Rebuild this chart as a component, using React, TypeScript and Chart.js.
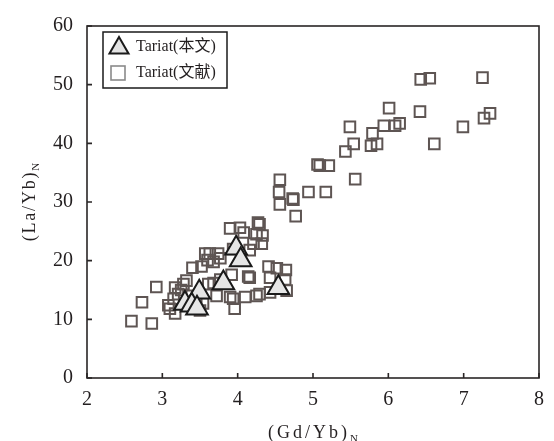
import { useEffect, useRef } from "react";
import { Chart, registerables } from "chart.js";

Chart.register(...registerables);

// X / Y tick values
const xTickValues = [2, 3, 4, 5, 6, 7, 8];
const yTickValues = [0, 10, 20, 30, 40, 50, 60];

// Tariat (this study) — (Gd/Yb)N, (La/Yb)N
const studyGdYb = [3.98, 4.04, 3.81, 4.54, 3.49, 3.3, 3.39, 3.46];
const studyLaYb = [22.1, 20.1, 16.2, 15.4, 14.6, 12.7, 12.4, 11.9];

// Tariat (literature)
const litGdYb = [
  6.43, 6.55, 7.25, 6.42, 6.01, 7.35, 7.27, 6.99, 6.61, 6.15, 6.09, 5.94, 5.49, 5.79, 5.85,
  5.77, 5.54, 5.43, 5.06, 5.09, 5.21, 5.56, 4.94, 5.17, 4.73, 4.74, 4.77, 4.56, 4.55, 4.56,
  3.9, 4.03, 4.08, 4.27, 4.29, 4.25, 4.33, 4.32, 4.21, 4.16, 3.94, 3.57, 3.63, 3.74, 3.77,
  3.6, 3.68, 3.4, 3.52, 3.92, 3.77, 4.16, 4.14, 4.41, 4.52, 4.43, 4.63, 4.64, 2.92, 3.17,
  3.32, 3.28, 3.21, 3.15, 3.08, 3.1, 3.17, 3.61, 3.68, 3.72, 3.9, 3.96, 3.94, 4.1, 4.25,
  4.29, 4.43, 4.65, 3.54, 2.86, 2.73, 2.59, 3.25, 3.35, 3.45, 3.5, 3.42,
];
const litLaYb = [
  50.9, 51.1, 51.2, 45.4, 46.0, 45.1, 44.3, 42.8, 39.9, 43.4, 43.0, 43.0, 42.8, 41.7, 39.9,
  39.6, 39.9, 38.6, 36.4, 36.2, 36.2, 33.9, 31.7, 31.7, 30.6, 30.4, 27.6, 33.8, 31.7, 29.6,
  25.5, 25.6, 24.8, 26.5, 26.2, 24.5, 24.3, 22.9, 22.9, 21.8, 22.0, 21.2, 21.2, 21.2, 20.4,
  20.1, 19.8, 18.8, 19.0, 17.6, 16.8, 17.1, 17.3, 19.0, 18.7, 17.1, 16.8, 18.4, 15.5, 15.4,
  16.6, 16.0, 14.3, 13.5, 12.4, 11.8, 11.0, 16.0, 16.2, 14.0, 13.8, 11.8, 13.5, 13.8, 14.0,
  14.3, 14.6, 14.9, 12.7, 9.3, 12.9, 9.7, 15.0, 14.0, 13.0, 11.5, 12.0,
];

const legendLabels = ["Tariat(本文)", "Tariat(文献)"];
const xTitle = "(Gd/Yb)";
const yTitle = "(La/Yb)";
const subscript = "N";

const SERIF = '"Liberation Serif", "Times New Roman", serif';
const LEGEND_FONT = '"Liberation Serif", "Noto Sans CJK SC", serif';
const AXIS_COLOR = "#2a2626";
const SQUARE_COLOR = "#5e5553";

function drawTitle(ctx: CanvasRenderingContext2D, main: string, sub: string, spacing: string) {
  ctx.font = `18px ${SERIF}`;
  (ctx as any).letterSpacing = spacing;
  const wMain = ctx.measureText(main).width;
  ctx.font = `11px ${SERIF}`;
  (ctx as any).letterSpacing = "0px";
  const wSub = ctx.measureText(sub).width;
  const total = wMain + wSub;
  ctx.textAlign = "left";
  ctx.textBaseline = "middle";
  ctx.font = `18px ${SERIF}`;
  (ctx as any).letterSpacing = spacing;
  ctx.fillText(main, -total / 2, 0);
  ctx.font = `11px ${SERIF}`;
  (ctx as any).letterSpacing = "0px";
  ctx.fillText(sub, -total / 2 + wMain, 6);
}

const decoPlugin = {
  id: "deco",
  afterDraw(chart: any) {
    const { ctx, chartArea, scales } = chart;
    const { left, right, top, bottom } = chartArea;
    const xs = scales.x;
    const ys = scales.y;
    ctx.save();
    ctx.strokeStyle = AXIS_COLOR;
    ctx.lineWidth = 1.6;
    ctx.strokeRect(left, top, right - left, bottom - top);
    ctx.beginPath();
    xTickValues.forEach((v) => {
      const px = xs.getPixelForValue(v);
      ctx.moveTo(px, bottom);
      ctx.lineTo(px, bottom - 5);
    });
    yTickValues.forEach((v) => {
      const py = ys.getPixelForValue(v);
      ctx.moveTo(left, py);
      ctx.lineTo(left + 5, py);
    });
    ctx.stroke();

    // axis titles
    ctx.fillStyle = "#231f20";
    ctx.save();
    ctx.translate((left + right) / 2 + 0, 433);
    drawTitle(ctx, xTitle, subscript, "3px");
    ctx.restore();
    ctx.save();
    ctx.translate(30, (top + bottom) / 2 + 0);
    ctx.rotate(-Math.PI / 2);
    drawTitle(ctx, yTitle, subscript, "1.8px");
    ctx.restore();

    // legend
    ctx.lineWidth = 1.5;
    ctx.strokeStyle = "#1a1a1a";
    ctx.strokeRect(103, 32, 124, 56);
    // triangle
    const tx = 119, ty = 48, r = 11;
    ctx.beginPath();
    for (let i = 0; i < 3; i++) {
      const a = (i * 2 * Math.PI) / 3;
      const px = tx + Math.sin(a) * r;
      const py = ty - Math.cos(a) * r;
      if (i === 0) ctx.moveTo(px, py);
      else ctx.lineTo(px, py);
    }
    ctx.closePath();
    ctx.fillStyle = "#e4e4e4";
    ctx.fill();
    ctx.lineWidth = 2;
    ctx.strokeStyle = "#1a1a1a";
    ctx.stroke();
    // square
    ctx.lineWidth = 1.6;
    ctx.strokeStyle = "#8a8a8a";
    ctx.strokeRect(111, 66, 14, 14);
    ctx.fillStyle = "#231f20";
    ctx.font = `16px ${LEGEND_FONT}`;
    ctx.textAlign = "left";
    ctx.textBaseline = "middle";
    ctx.fillText(legendLabels[0], 136, 47);
    ctx.fillText(legendLabels[1], 136, 73);
    ctx.restore();
  },
};

export default function App() {
  const canvasRef = useRef<HTMLCanvasElement | null>(null);

  useEffect(() => {
    if (!canvasRef.current) return;
    const chart = new Chart(canvasRef.current, {
      type: "scatter",
      data: {
        datasets: [
          {
            label: legendLabels[0],
            data: studyGdYb.map((x, i) => ({ x, y: studyLaYb[i] })),
            pointStyle: "triangle",
            pointRadius: 12.5,
            pointHoverRadius: 12.5,
            backgroundColor: "#e6e6e6",
            borderColor: "#1a1a1a",
            borderWidth: 2,
          },
          {
            label: legendLabels[1],
            data: litGdYb.map((x, i) => ({ x, y: litLaYb[i] })),
            pointStyle: "rect",
            pointRadius: 7.5,
            pointHoverRadius: 7.5,
            backgroundColor: "rgba(0,0,0,0)",
            borderColor: SQUARE_COLOR,
            borderWidth: 2,
          },
        ],
      },
      options: {
        responsive: false,
        animation: false,
        events: [],
        layout: { padding: { left: 0, right: 15, top: 16, bottom: 0 } },
        plugins: { legend: { display: false }, tooltip: { enabled: false } },
        scales: {
          x: {
            type: "linear",
            min: 2,
            max: 8,
            afterFit: (s: any) => {
              s.height = 63;
            },
            afterBuildTicks: (s: any) => {
              s.ticks = xTickValues.map((v) => ({ value: v }));
            },
            ticks: {
              font: { family: SERIF, size: 20 },
              color: "#231f20",
              padding: 10,
              maxRotation: 0,
            },
            grid: { display: false, drawTicks: false },
            border: { display: false },
          },
          y: {
            type: "linear",
            min: 0,
            max: 60,
            afterFit: (s: any) => {
              s.width = 87;
            },
            afterBuildTicks: (s: any) => {
              s.ticks = yTickValues.map((v) => ({ value: v }));
            },
            ticks: {
              font: { family: SERIF, size: 20 },
              color: "#231f20",
              padding: 14,
            },
            grid: { display: false, drawTicks: false },
            border: { display: false },
          },
        },
      },
      plugins: [decoPlugin],
    } as any);
    return () => chart.destroy();
  }, []);

  return (
    <div style={{ position: "absolute", left: 0, top: 0, width: 554, height: 441, background: "#fff" }}>
      <canvas ref={canvasRef} width={554} height={441} style={{ width: 554, height: 441 }} />
    </div>
  );
}
